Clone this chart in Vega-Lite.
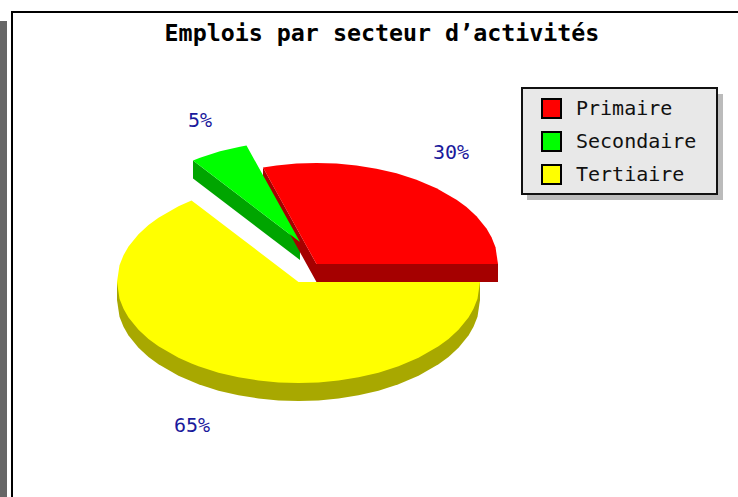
{"$schema":"https://vega.github.io/schema/vega-lite/v6.json","width":738,"height":497,"padding":0,"autosize":"none","background":"#ffffff","title":{"text":"Emplois par secteur d’activités","font":"DejaVu Sans Mono","fontSize":23.3,"fontWeight":"bold","color":"#000000","anchor":"middle","dx":13,"offset":-64,"baseline":"alphabetic"},"config":{"view":{"stroke":null}},"datasets":{"sides":[{"slice":"Tertiaire","x":117,"y":282,"y2":300},{"slice":"Tertiaire","x":119.5,"y":282,"y2":316.7},{"slice":"Tertiaire","x":123.5,"y":282,"y2":326.8},{"slice":"Tertiaire","x":128.5,"y":282,"y2":335.4},{"slice":"Tertiaire","x":138.5,"y":282,"y2":347.7},{"slice":"Tertiaire","x":148.5,"y":282,"y2":356.9},{"slice":"Tertiaire","x":158.5,"y":282,"y2":364.3},{"slice":"Tertiaire","x":178.5,"y":282,"y2":375.8},{"slice":"Tertiaire","x":198.5,"y":282,"y2":384.3},{"slice":"Tertiaire","x":218.5,"y":282,"y2":390.7},{"slice":"Tertiaire","x":238.5,"y":282,"y2":395.3},{"slice":"Tertiaire","x":258.5,"y":282,"y2":398.5},{"slice":"Tertiaire","x":278.5,"y":282,"y2":400.4},{"slice":"Tertiaire","x":298.5,"y":282,"y2":401},{"slice":"Tertiaire","x":318.5,"y":282,"y2":400.4},{"slice":"Tertiaire","x":338.5,"y":282,"y2":398.5},{"slice":"Tertiaire","x":358.5,"y":282,"y2":395.3},{"slice":"Tertiaire","x":378.5,"y":282,"y2":390.7},{"slice":"Tertiaire","x":398.5,"y":282,"y2":384.3},{"slice":"Tertiaire","x":418.5,"y":282,"y2":375.8},{"slice":"Tertiaire","x":438.5,"y":282,"y2":364.3},{"slice":"Tertiaire","x":448.5,"y":282,"y2":356.9},{"slice":"Tertiaire","x":458.5,"y":282,"y2":347.7},{"slice":"Tertiaire","x":468.5,"y":282,"y2":335.4},{"slice":"Tertiaire","x":473.5,"y":282,"y2":326.8},{"slice":"Tertiaire","x":477.5,"y":282,"y2":316.7},{"slice":"Tertiaire","x":480,"y":282,"y2":300},{"slice":"Secondaire","x":193,"y":160.4,"y2":178.4},{"slice":"Secondaire","x":300,"y":242,"y2":260},{"slice":"Primaire","x":263,"y":167.5,"y2":185.5},{"slice":"Primaire","x":316.5,"y":264,"y2":282},{"slice":"Primaire","x":498,"y":264,"y2":282}],"faces":[{"slice":"Secondaire","x":193,"y":160.4,"y2":160.4},{"slice":"Secondaire","x":200,"y":157.7,"y2":165.7},{"slice":"Secondaire","x":220,"y":151.3,"y2":181},{"slice":"Secondaire","x":240,"y":146.7,"y2":196.2},{"slice":"Secondaire","x":246.5,"y":145.5,"y2":201.2},{"slice":"Secondaire","x":300,"y":242,"y2":242},{"slice":"Tertiaire","x":117,"y":282,"y2":282},{"slice":"Tertiaire","x":119.5,"y":265.3,"y2":298.7},{"slice":"Tertiaire","x":123.5,"y":255.2,"y2":308.8},{"slice":"Tertiaire","x":128.5,"y":246.6,"y2":317.4},{"slice":"Tertiaire","x":138.5,"y":234.3,"y2":329.7},{"slice":"Tertiaire","x":148.5,"y":225.1,"y2":338.9},{"slice":"Tertiaire","x":158.5,"y":217.7,"y2":346.3},{"slice":"Tertiaire","x":178.5,"y":206.2,"y2":357.8},{"slice":"Tertiaire","x":191.5,"y":200.4,"y2":363.6},{"slice":"Tertiaire","x":198.5,"y":205.7,"y2":366.3},{"slice":"Tertiaire","x":218.5,"y":221,"y2":372.7},{"slice":"Tertiaire","x":238.5,"y":236.2,"y2":377.3},{"slice":"Tertiaire","x":258.5,"y":251.5,"y2":380.5},{"slice":"Tertiaire","x":278.5,"y":266.7,"y2":382.4},{"slice":"Tertiaire","x":298.5,"y":282,"y2":383},{"slice":"Tertiaire","x":318.5,"y":282,"y2":382.4},{"slice":"Tertiaire","x":338.5,"y":282,"y2":380.5},{"slice":"Tertiaire","x":358.5,"y":282,"y2":377.3},{"slice":"Tertiaire","x":378.5,"y":282,"y2":372.7},{"slice":"Tertiaire","x":398.5,"y":282,"y2":366.3},{"slice":"Tertiaire","x":418.5,"y":282,"y2":357.8},{"slice":"Tertiaire","x":438.5,"y":282,"y2":346.3},{"slice":"Tertiaire","x":448.5,"y":282,"y2":338.9},{"slice":"Tertiaire","x":458.5,"y":282,"y2":329.7},{"slice":"Tertiaire","x":468.5,"y":282,"y2":317.4},{"slice":"Tertiaire","x":473.5,"y":282,"y2":308.8},{"slice":"Tertiaire","x":477.5,"y":282,"y2":298.7},{"slice":"Tertiaire","x":480,"y":282,"y2":282},{"slice":"Primaire","x":263,"y":167.5,"y2":167.5},{"slice":"Primaire","x":276.5,"y":165.5,"y2":191.9},{"slice":"Primaire","x":296.5,"y":163.6,"y2":228},{"slice":"Primaire","x":316.5,"y":163,"y2":264},{"slice":"Primaire","x":336.5,"y":163.6,"y2":264},{"slice":"Primaire","x":356.5,"y":165.5,"y2":264},{"slice":"Primaire","x":376.5,"y":168.7,"y2":264},{"slice":"Primaire","x":396.5,"y":173.3,"y2":264},{"slice":"Primaire","x":416.5,"y":179.7,"y2":264},{"slice":"Primaire","x":436.5,"y":188.2,"y2":264},{"slice":"Primaire","x":456.5,"y":199.7,"y2":264},{"slice":"Primaire","x":466.5,"y":207.1,"y2":264},{"slice":"Primaire","x":476.5,"y":216.3,"y2":264},{"slice":"Primaire","x":486.5,"y":228.6,"y2":264},{"slice":"Primaire","x":491.5,"y":237.2,"y2":264},{"slice":"Primaire","x":495.5,"y":247.3,"y2":264},{"slice":"Primaire","x":498,"y":264,"y2":264}]},"layer":[{"data":{"values":[{"part":"bande","x":0,"x2":7,"y":21,"y2":497}]},"mark":{"type":"rect","color":"#666666"},"encoding":{"x":{"field":"x","type":"quantitative","scale":{"domain":[0,738],"nice":false,"zero":false},"axis":null},"x2":{"field":"x2"},"y":{"field":"y","type":"quantitative","scale":{"domain":[0,497],"reverse":true,"nice":false,"zero":false},"axis":null},"y2":{"field":"y2"}}},{"data":{"values":[{"part":"cadre haut","x":11,"x2":738,"y":11,"y2":13},{"part":"cadre gauche","x":11,"x2":13,"y":11,"y2":497}]},"mark":{"type":"rect","color":"#000000"},"encoding":{"x":{"field":"x","type":"quantitative"},"x2":{"field":"x2"},"y":{"field":"y","type":"quantitative"},"y2":{"field":"y2"}}},{"data":{"values":[{"part":"ombre légende","x":527,"x2":723,"y":94,"y2":200}]},"mark":{"type":"rect","color":"#bbbbbb"},"encoding":{"x":{"field":"x","type":"quantitative"},"x2":{"field":"x2"},"y":{"field":"y","type":"quantitative"},"y2":{"field":"y2"}}},{"data":{"values":[{"part":"cadre légende","x":522,"x2":717,"y":88,"y2":194}]},"mark":{"type":"rect","fill":"#e8e8e8","stroke":"#111111","strokeWidth":2},"encoding":{"x":{"field":"x","type":"quantitative"},"x2":{"field":"x2"},"y":{"field":"y","type":"quantitative"},"y2":{"field":"y2"}}},{"data":{"name":"sides"},"mark":{"type":"area","interpolate":"linear"},"encoding":{"x":{"field":"x","type":"quantitative"},"y":{"field":"y","type":"quantitative","stack":null},"y2":{"field":"y2"},"color":{"field":"slice","type":"nominal","legend":null,"scale":{"domain":["Primaire","Secondaire","Tertiaire"],"range":["#a50000","#00a500","#a8a800"]}}}},{"data":{"name":"faces"},"mark":{"type":"area","interpolate":"linear"},"encoding":{"x":{"field":"x","type":"quantitative"},"y":{"field":"y","type":"quantitative","stack":null},"y2":{"field":"y2"},"fill":{"field":"slice","type":"nominal","scale":{"domain":["Primaire","Secondaire","Tertiaire"],"range":["#ff0000","#00ff00","#ffff00"]},"legend":{"title":null,"orient":"none","legendX":541,"legendY":98,"padding":0,"symbolType":"square","symbolSize":361,"symbolStrokeColor":"#000000","symbolStrokeWidth":2,"labelFont":"DejaVu Sans Mono","labelFontSize":20,"labelColor":"#111111","labelOffset":14,"rowPadding":6,"offset":0}}}},{"data":{"values":[{"label":"30%","x":451,"y":153},{"label":"5%","x":200,"y":121},{"label":"65%","x":192,"y":426}]},"mark":{"type":"text","font":"DejaVu Sans Mono","fontSize":20,"color":"#1a1a9c","align":"center","baseline":"middle"},"encoding":{"x":{"field":"x","type":"quantitative"},"y":{"field":"y","type":"quantitative"},"text":{"field":"label"}}}],"resolve":{"scale":{"color":"independent","fill":"independent"}}}
